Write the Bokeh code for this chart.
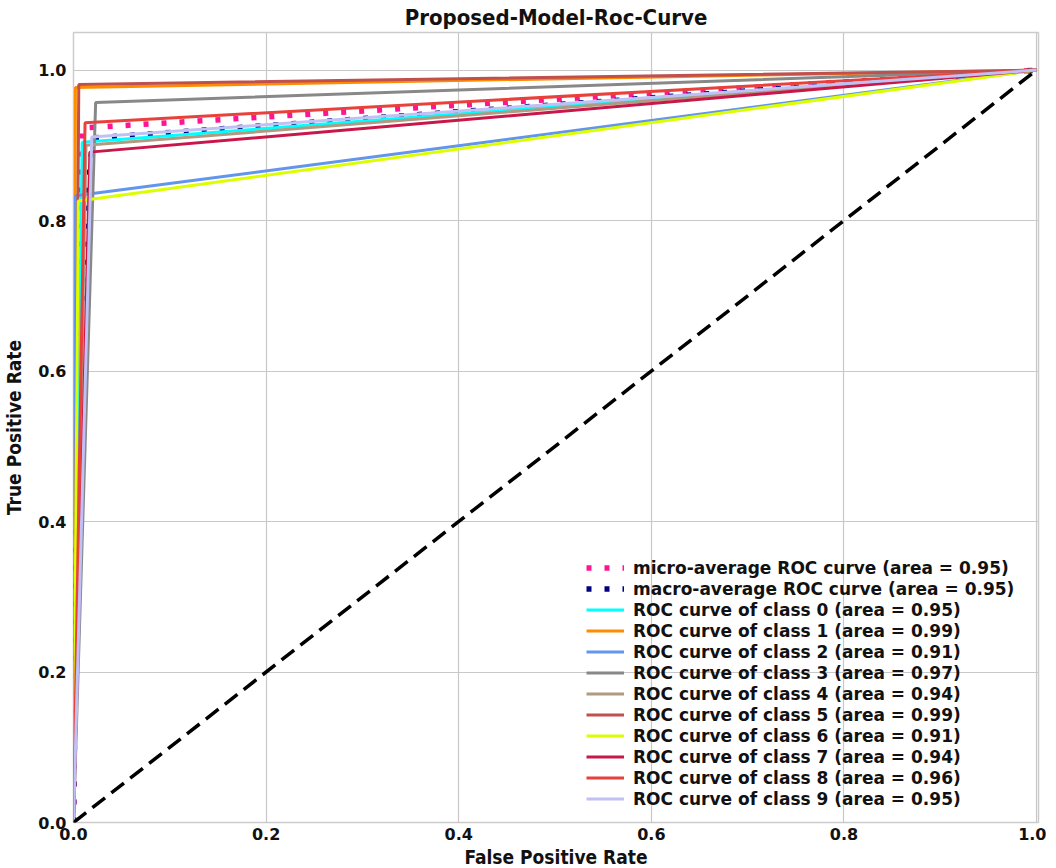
from bokeh.plotting import figure
from bokeh.models import Range1d, FixedTicker, PrintfTickFormatter, Legend, LegendItem
from bokeh.embed import file_html
from bokeh.resources import INLINE

# ---- data ----
class_names = ["ROC curve of class %d" % i for i in range(10)]
class_auc = [0.95, 0.99, 0.91, 0.97, 0.94, 0.99, 0.91, 0.94, 0.96, 0.95]
class_fpr = [
    [0.0, 0.009, 1.0],
    [0.0, 0.002, 1.0],
    [0.0, 0.002, 1.0],
    [0.0, 0.023, 1.0],
    [0.0, 0.013, 1.0],
    [0.0, 0.0055, 1.0],
    [0.0, 0.005, 1.0],
    [0.0, 0.017, 1.0],
    [0.0, 0.012, 1.0],
    [0.0, 0.019, 1.0],
]
class_tpr = [
    [0.0, 0.904, 1.0],
    [0.0, 0.977, 1.0],
    [0.0, 0.833, 1.0],
    [0.0, 0.957, 1.0],
    [0.0, 0.900, 1.0],
    [0.0, 0.981, 1.0],
    [0.0, 0.826, 1.0],
    [0.0, 0.891, 1.0],
    [0.0, 0.930, 1.0],
    [0.0, 0.911, 1.0],
]
micro_auc = 0.95
micro_fpr = [0.0, 0.009, 1.0]
micro_tpr = [0.0, 0.923, 1.0]
macro_auc = 0.95
macro_fpr = [0.0, 0.002, 0.005, 0.009, 0.013, 0.017, 0.019, 0.023, 1.0]
macro_tpr = [0.0, 0.33, 0.55, 0.71, 0.82, 0.88, 0.89, 0.91, 1.0]
diag_x = [0.0, 1.0]
diag_y = [0.0, 1.0]
ticks = [0.0, 0.2, 0.4, 0.6, 0.8, 1.0]

class_colors = ["#00ffff", "#ff8c00", "#6495ed", "#888888", "#b09a82",
                "#c0504d", "#dcff00", "#c8184a", "#e8413c", "#c0c0f5"]

p = figure(frame_width=965, frame_height=790, output_backend="svg",
           toolbar_location=None, x_range=Range1d(0.0, 1.002),
           y_range=Range1d(0.0, 1.05),
           min_border_left=68, min_border_top=31, min_border_right=8,
           min_border_bottom=37, background_fill_color="white")

p.title.text = "Proposed-Model-Roc-Curve"
p.title.align = "center"
p.title.text_font = "DejaVu Sans Condensed"
p.title.text_font_style = "bold"
p.title.text_font_size = "22px"
p.title.text_color = "#111111"
p.title.offset = 0
p.title.standoff = 5

p.outline_line_color = "#cccccc"
p.outline_line_width = 1.5

for ax in (p.xaxis[0], p.yaxis[0]):
    ax.ticker = FixedTicker(ticks=ticks)
    ax.formatter = PrintfTickFormatter(format="%.1f")
    ax.major_tick_line_color = None
    ax.minor_tick_line_color = None
    ax.axis_line_color = None
    ax.major_label_text_font = "DejaVu Sans"
    ax.major_label_text_font_style = "bold"
    ax.major_label_text_font_size = "16px"
    ax.major_label_text_color = "#111111"
    ax.axis_label_text_font = "DejaVu Sans Condensed"
    ax.axis_label_text_font_style = "bold"
    ax.axis_label_text_font_size = "19px"
    ax.axis_label_text_color = "#111111"
    ax.major_tick_out = 0
    ax.major_tick_in = 0

p.xaxis.axis_label = "False Positive Rate"
p.yaxis.axis_label = "True Positive Rate"
p.xaxis.major_label_standoff = 5
p.yaxis.major_label_standoff = 7
p.xaxis.axis_label_standoff = 3
p.yaxis.axis_label_standoff = 10

p.grid.grid_line_color = "#c8c8c8"
p.grid.grid_line_width = 1.2

items = []
r = p.line(micro_fpr, micro_tpr, line_color="#ff1493", line_width=5.5,
           line_dash="5 13")
items.append(LegendItem(label="micro-average ROC curve (area = %.2f)" % micro_auc, renderers=[r]))
r = p.line(macro_fpr, macro_tpr, line_color="#000080", line_width=5.5,
           line_dash="5 13")
items.append(LegendItem(label="macro-average ROC curve (area = %.2f)" % macro_auc, renderers=[r]))
for i in range(10):
    r = p.line(class_fpr[i], class_tpr[i], line_color=class_colors[i], line_width=3)
    items.append(LegendItem(label="%s (area = %.2f)" % (class_names[i], class_auc[i]), renderers=[r]))

p.line(diag_x, diag_y, line_color="black", line_width=3.5, line_dash="16 8")

legend = Legend(items=items, location=(513, 13), orientation="vertical",
                background_fill_alpha=0, border_line_color=None,
                padding=0, margin=0, spacing=0,
                glyph_width=38, glyph_height=21, label_height=21,
                label_standoff=9,
                label_text_font="DejaVu Sans", label_text_font_style="bold",
                label_text_font_size="17px", label_text_color="#111111")
p.add_layout(legend, "center")

open("out.html", "w").write(file_html(p, INLINE))
